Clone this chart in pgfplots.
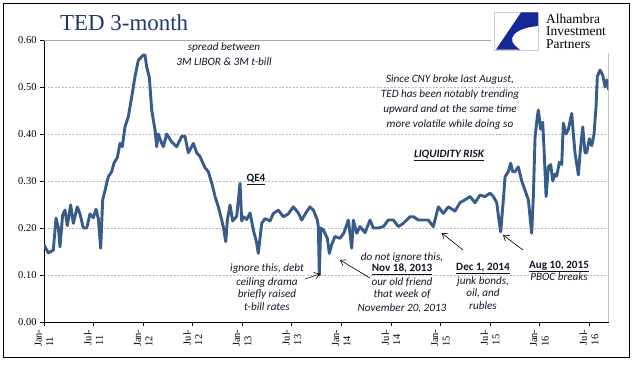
\documentclass[border=0pt]{standalone}
\usepackage{pgfplots}
\pgfplotsset{compat=1.18}
\usepackage{fontspec}
\setmainfont{Liberation Serif}
\newfontfamily\calfont{Carlito}
\usetikzlibrary{arrows.meta}
\definecolor{tedblue}{RGB}{56,92,138}
\definecolor{titleblue}{RGB}{31,56,110}
\definecolor{logoblue}{RGB}{22,40,150}
\definecolor{annot}{RGB}{20,20,40}
\begin{document}
\begin{tikzpicture}[x=1bp,y=1bp]
\useasboundingbox (0,0) rectangle (641,372);
\begin{axis}[
  at={(44bp,50bp)}, anchor=south west,
  scale only axis, width=564.7bp, height=282bp,
  xmin=0, xmax=5.698, ymin=0, ymax=0.6,
  axis x line*=bottom, axis y line*=left,
  axis line style={black, line width=0.8bp},
  xtick={0,0.5,1,1.5,2,2.5,3,3.5,4,4.5,5,5.5},
  xticklabels={{Jan-\\11},{Jul-\\11},{Jan-\\12},{Jul-\\12},{Jan-\\13},{Jul-\\13},{Jan-\\14},{Jul-\\14},{Jan-\\15},{Jul-\\15},{Jan-\\16},{Jul-\\16}},
  xticklabel style={rotate=90, anchor=east, align=left, font=\fontsize{10.5}{11.5}\selectfont},
  ytick={0,0.1,0.2,0.3,0.4,0.5,0.6},
  yticklabel style={font=\fontsize{10.5}{12}\selectfont, /pgf/number format/.cd, fixed, fixed zerofill, precision=2},
  /pgf/number format/assume math mode=true,
  tick align=outside, major tick length=4bp,
  tick style={black, line width=0.6bp},
  ymajorgrids, major grid style={gray!55, dash pattern=on 2bp off 1.5bp, line width=0.5bp},
]
\addplot[tedblue, line width=2.9bp, line join=round] coordinates {
(0.000,0.165) (0.010,0.160) (0.044,0.147) (0.094,0.153) (0.121,0.221) (0.145,0.200) (0.161,0.160)
(0.188,0.228) (0.212,0.238) (0.235,0.205) (0.269,0.249) (0.296,0.210) (0.336,0.245) (0.363,0.230)
(0.397,0.200) (0.431,0.200) (0.464,0.230) (0.498,0.222) (0.525,0.240) (0.548,0.220) (0.572,0.157)
(0.592,0.260) (0.616,0.280) (0.649,0.309) (0.683,0.320) (0.706,0.338) (0.740,0.350) (0.767,0.380)
(0.790,0.373) (0.817,0.415) (0.851,0.437) (0.885,0.479) (0.918,0.522) (0.952,0.557) (1.002,0.568)
(1.019,0.568) (1.036,0.543) (1.063,0.520) (1.087,0.451) (1.103,0.430) (1.120,0.409) (1.137,0.373)
(1.153,0.400) (1.188,0.380) (1.204,0.373) (1.238,0.400) (1.289,0.383) (1.339,0.373) (1.389,0.395)
(1.423,0.395) (1.456,0.360) (1.507,0.380) (1.541,0.360) (1.574,0.352) (1.625,0.328) (1.658,0.320)
(1.692,0.296) (1.726,0.267) (1.759,0.245) (1.793,0.217) (1.809,0.203) (1.834,0.171) (1.850,0.217)
(1.877,0.249) (1.904,0.215) (1.944,0.225) (1.978,0.295) (1.995,0.215) (2.011,0.224) (2.045,0.218)
(2.079,0.232) (2.112,0.196) (2.146,0.168) (2.162,0.146) (2.197,0.210) (2.230,0.220) (2.281,0.215)
(2.314,0.231) (2.364,0.238) (2.415,0.224) (2.465,0.230) (2.516,0.245) (2.566,0.232) (2.600,0.217)
(2.651,0.235) (2.684,0.245) (2.718,0.238) (2.758,0.217) (2.768,0.203) (2.778,0.100) (2.792,0.200)
(2.818,0.196) (2.859,0.178) (2.879,0.146) (2.903,0.165) (2.936,0.182) (2.987,0.178) (3.027,0.190)
(3.071,0.217) (3.105,0.157) (3.121,0.217) (3.155,0.189) (3.189,0.203) (3.239,0.190) (3.290,0.217)
(3.323,0.200) (3.373,0.200) (3.424,0.203) (3.474,0.217) (3.525,0.217) (3.575,0.203) (3.626,0.210)
(3.693,0.224) (3.727,0.224) (3.777,0.217) (3.827,0.217) (3.878,0.217) (3.928,0.203) (3.979,0.245)
(4.029,0.231) (4.080,0.245) (4.147,0.236) (4.198,0.254) (4.248,0.260) (4.299,0.267) (4.349,0.254)
(4.400,0.270) (4.450,0.267) (4.501,0.274) (4.534,0.267) (4.568,0.254) (4.595,0.210) (4.608,0.192)
(4.635,0.260) (4.652,0.309) (4.685,0.320) (4.709,0.338) (4.729,0.320) (4.753,0.320) (4.786,0.330)
(4.820,0.300) (4.854,0.280) (4.887,0.260) (4.904,0.224) (4.921,0.189) (4.938,0.270) (4.955,0.394)
(4.978,0.437) (4.988,0.451) (5.012,0.410) (5.032,0.425) (5.045,0.370) (5.066,0.267) (5.089,0.330)
(5.113,0.335) (5.133,0.300) (5.156,0.315) (5.173,0.310) (5.200,0.340) (5.224,0.335) (5.240,0.423)
(5.267,0.400) (5.291,0.410) (5.325,0.444) (5.341,0.400) (5.358,0.360) (5.392,0.313) (5.409,0.360)
(5.436,0.415) (5.459,0.360) (5.476,0.360) (5.503,0.390) (5.527,0.375) (5.550,0.400) (5.570,0.458)
(5.583,0.522) (5.610,0.536) (5.638,0.525) (5.661,0.500) (5.678,0.515) (5.698,0.494)
};
\draw[gray!70, line width=0.7bp] (rel axis cs:0,1) -- (rel axis cs:1,1) -- (rel axis cs:1,0);
\end{axis}
% outer frame
\draw[black, line width=1bp] (3,15) rectangle (629,368);
% logo area
\fill[white] (491,319) rectangle (628.5,367.5);
\draw[gray!40, line width=0.6bp] (494,322) rectangle (538,360);
\fill[logoblue] (521,359.5) -- (538,359.5) -- (538,346) .. controls (515,344) and (503,333) .. (520,322.5) -- (496,322.5) -- cycle;
\node[anchor=base west, inner sep=0, font=\fontsize{13.5}{13.5}\selectfont] at (546,349) {Alhambra};
\node[anchor=base west, inner sep=0, font=\fontsize{13.5}{13.5}\selectfont] at (546,336.5) {Investment};
\node[anchor=base west, inner sep=0, font=\fontsize{13.5}{13.5}\selectfont] at (546,324) {Partners};
% title
\node[anchor=base west, inner sep=0, text=titleblue, font=\fontsize{23}{23}\selectfont] at (60,342) {TED 3-month};
% annotations
\begin{scope}[every node/.style={anchor=base, inner sep=0, text=annot, font=\calfont\itshape\fontsize{11.2}{12}\selectfont}]
\node at (224,321.3) {spread between};
\node at (224,307) {3M LIBOR \& 3M t-bill};
\node at (450,289.3) {Since CNY broke last August,};
\node at (450,274.3) {TED has been notably trending};
\node at (450,259.3) {upward and at the same time};
\node at (450,244.7) {more volatile while doing so};
\node[font=\calfont\bfseries\itshape\fontsize{11.2}{12}\selectfont] at (449,214.7) {\underline{LIQUIDITY RISK}};
\node[font=\calfont\bfseries\fontsize{11.2}{12}\selectfont] at (256,191) {\underline{QE4}};
\node at (267,100.3) {ignore this, debt};
\node at (267,87) {ceiling drama};
\node at (267,74.7) {briefly raised};
\node at (267,62) {t-bill rates};
\node at (402,112) {do not ignore this,};
\node[font=\calfont\bfseries\fontsize{11.2}{12}\selectfont] at (402,100.3) {\underline{Nov 18, 2013}};
\node at (402,87) {our old friend};
\node at (402,74.3) {that week of};
\node at (402,61) {November 20, 2013};
\node[font=\calfont\bfseries\fontsize{11.2}{12}\selectfont] at (483,101.3) {\underline{Dec 1, 2014}};
\node at (483,88) {junk bonds,};
\node at (483,75.3) {oil, and};
\node at (483,62.7) {rubles};
\node[font=\calfont\bfseries\fontsize{11.2}{12}\selectfont] at (559,103.7) {\underline{Aug 10, 2015}};
\node at (559,91.3) {PBOC breaks};
\end{scope}
\begin{scope}[-{Straight Barb[length=5bp,width=7bp]}, line width=0.6bp, black]
\draw (305,93) -- (320,98);
\draw (370,94) -- (340,112);
\draw (463,122) -- (441.7,139);
\draw (523,122) -- (503,137);
\end{scope}
\end{tikzpicture}
\end{document}
